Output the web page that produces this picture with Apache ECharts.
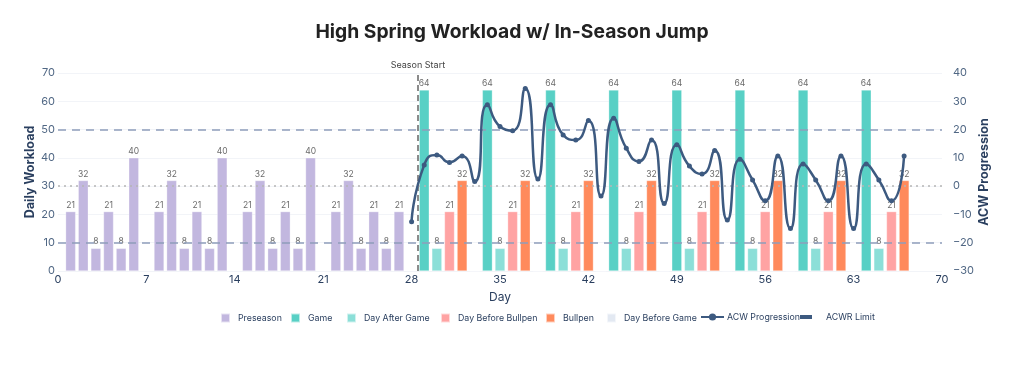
<!DOCTYPE html>
<html>
<head>
<meta charset="utf-8">
<script src="https://cdn.jsdelivr.net/npm/echarts@6/dist/echarts.min.js"></script>
<style>
html,body{margin:0;padding:0;background:#fff;}
#chart{width:1024px;height:366px;}
</style>
</head>
<body>
<div id="chart"></div>
<script>
// ---- data ----
const preseasonDays = [1,2,3,4,5,6, 8,9,10,11,12,13, 15,16,17,18,19,20, 22,23,24,25,26,27];
const preseasonVals = [21,32,8,21,8,40, 21,32,8,21,8,40, 21,32,8,21,8,40, 21,32,8,21,8,21];
const gameDays = [29,34,39,44,49,54,59,64];
const gameVals = [64,64,64,64,64,64,64,64];
const afterGameDays = [30,35,40,45,50,55,60,65];
const afterGameVals = [8,8,8,8,8,8,8,8];
const beforeBullpenDays = [31,36,41,46,51,56,61,66];
const beforeBullpenVals = [21,21,21,21,21,21,21,21];
const bullpenDays = [32,37,42,47,52,57,62,67];
const bullpenVals = [32,32,32,32,32,32,32,32];
const beforeGameDays = [33,38,43,48,53,58,63];
const beforeGameVals = [0,0,0,0,0,0,0];
const acwDays = [28,29,30,31,32,33,34,35,36,37,38,39,40,41,42,43,44,45,46,47,48,49,50,51,52,53,54,55,56,57,58,59,60,61,62,63,64,65,66,67];
const acwVals = [-12.6,7.5,11.0,8.4,10.7,1.6,28.8,21.1,19.6,34.5,2.5,28.8,18.1,16.3,23.2,-3.5,24.0,13.4,8.7,16.3,-6.1,14.6,7.1,4.3,12.6,-12.0,9.5,2.2,-5.2,10.7,-15.0,7.8,2.2,-5.2,10.7,-15.0,7.8,2.2,-5.2,10.7];
const acwrLimits = [20, -20];
const acwBaseline = 0;
const seasonStart = 28.5;
const xTicks = {min: 0, max: 70, interval: 7};
const leftTicks = {min: 0, max: 70, interval: 10};
const rightTicks = {min: -30, max: 40, interval: 10};

const FONT = 'Inter, "Open Sans", sans-serif';
const zip = (xs, ys) => xs.map((x, i) => [x, ys[i]]);

function barSeries(name, days, vals, color, showLabel) {
  return {
    name: name, type: 'bar', xAxisIndex: 0, yAxisIndex: 0,
    barWidth: 10, barGap: '-100%',
    data: zip(days, vals),
    itemStyle: {color: color, borderColor: 'rgba(255,255,255,0.6)', borderWidth: 0.5},
    label: {show: showLabel, position: 'top', distance: 2, fontSize: 8.5, color: '#6b6b6b', fontFamily: FONT},
    z: 2
  };
}

// legend layout (one legend block per entry)
const legendItems = [
  {name: 'Preseason', left: 215, w: 9, h: 9, pad: 3, icon: 'rect'},
  {name: 'Game', left: 285, w: 9, h: 9, pad: 3, icon: 'rect'},
  {name: 'Day After Game', left: 341, w: 9, h: 9, pad: 3, icon: 'rect'},
  {name: 'Day Before Bullpen', left: 435, w: 9, h: 9, pad: 3, icon: 'rect'},
  {name: 'Bullpen', left: 540, w: 9, h: 9, pad: 3, icon: 'rect'},
  {name: 'Day Before Game', left: 601, w: 9, h: 9, pad: 3, icon: 'rect'},
  {name: 'ACW Progression', left: 695, w: 23, h: 9, pad: -2, icon: undefined},
  {name: 'ACWR Limit', left: 795, w: 12, h: 4, pad: 9, icon: 'rect'}
];
const legends = legendItems.map(it => ({
  data: [it.name], left: it.left, top: 307.5, orient: 'horizontal',
  itemWidth: it.w, itemHeight: it.h, itemGap: 0,
  icon: it.icon,
  textStyle: {fontSize: 8.8, color: '#2a3f5f', fontFamily: FONT, padding: [0, 0, 0, it.pad]}
}));

const chart = echarts.init(document.getElementById('chart'), null, {renderer: 'canvas'});
chart.setOption({
  animation: false,
  backgroundColor: '#ffffff',
  title: {
    text: 'High Spring Workload w/ In-Season Jump',
    left: 'center', top: 18,
    textStyle: {fontSize: 19.3, fontWeight: 'bold', color: '#222', fontFamily: FONT}
  },
  legend: legends,
  grid: {left: 58, right: 82, top: 73, bottom: 95, containLabel: false},
  xAxis: {
    type: 'value', min: xTicks.min, max: xTicks.max, interval: xTicks.interval,
    name: 'Day', nameLocation: 'middle', nameGap: 20,
    nameTextStyle: {fontSize: 12, color: '#2a3f5f', fontFamily: FONT},
    axisLine: {show: false}, axisTick: {show: false},
    axisLabel: {fontSize: 11, color: '#2a3f5f', fontFamily: FONT, margin: 3},
    splitLine: {show: false}
  },
  yAxis: [
    {
      type: 'value', min: leftTicks.min, max: leftTicks.max, interval: leftTicks.interval,
      name: 'Daily Workload', nameLocation: 'middle', nameGap: 21, nameRotate: 90,
      nameMoveOverlap: false,
      nameTextStyle: {fontSize: 12.5, fontWeight: 'bold', color: '#2a3f5f', fontFamily: FONT},
      axisLine: {show: false}, axisTick: {show: false},
      axisLabel: {fontSize: 11, color: '#506784', fontFamily: FONT, margin: 3},
      splitLine: {show: true, lineStyle: {color: '#f2f4f8', width: 1}}
    },
    {
      type: 'value', min: rightTicks.min, max: rightTicks.max, interval: rightTicks.interval,
      position: 'right',
      name: 'ACW Progression', nameLocation: 'middle', nameGap: 36, nameRotate: 90,
      nameMoveOverlap: false,
      nameTextStyle: {fontSize: 12.5, fontWeight: 'bold', color: '#2a3f5f', fontFamily: FONT},
      axisLine: {show: false}, axisTick: {show: false},
      axisLabel: {fontSize: 11, color: '#506784', fontFamily: FONT, margin: 11,
        formatter: v => String(v).replace('-', '\u2212')},
      splitLine: {show: false}
    }
  ],
  series: [
    barSeries('Preseason', preseasonDays, preseasonVals, '#c2b7df', true),
    Object.assign(barSeries('Game', gameDays, gameVals, '#58d0c5', true), {
      markLine: {
        silent: true, symbol: 'none',
        data: [{xAxis: seasonStart}],
        lineStyle: {color: '#666', type: [6, 4], width: 1.5},
        label: {show: true, position: 'end', formatter: 'Season Start', fontSize: 9, color: '#444', fontFamily: FONT, distance: 3}
      }
    }),
    barSeries('Day After Game', afterGameDays, afterGameVals, '#8cdfd8', true),
    barSeries('Day Before Bullpen', beforeBullpenDays, beforeBullpenVals, '#ffa3a3', true),
    barSeries('Bullpen', bullpenDays, bullpenVals, '#ff8a5c', true),
    barSeries('Day Before Game', beforeGameDays, beforeGameVals, '#e3e9f2', false),
    {
      name: 'ACW Progression', type: 'line', xAxisIndex: 0, yAxisIndex: 1,
      data: zip(acwDays, acwVals), smooth: 0.6,
      symbol: 'circle', symbolSize: 5, showSymbol: true,
      lineStyle: {color: '#3d5a80', width: 2.5},
      itemStyle: {color: '#3d5a80'},
      z: 5
    },
    {
      name: 'ACWR Limit', type: 'line', xAxisIndex: 0, yAxisIndex: 1,
      data: [], symbol: 'none',
      lineStyle: {color: '#3d5a80', width: 3},
      itemStyle: {color: '#3d5a80'},
      markLine: {
        silent: true, symbol: 'none', label: {show: false},
        data: acwrLimits.map(v => ({yAxis: v, lineStyle: {color: '#8f9dbb', type: [8, 6], width: 1.5}}))
          .concat([{yAxis: acwBaseline, lineStyle: {color: '#b5b5b5', type: [2, 4], width: 1.5}}])
      },
      z: 1
    }
  ]
});
</script>
</body>
</html>
